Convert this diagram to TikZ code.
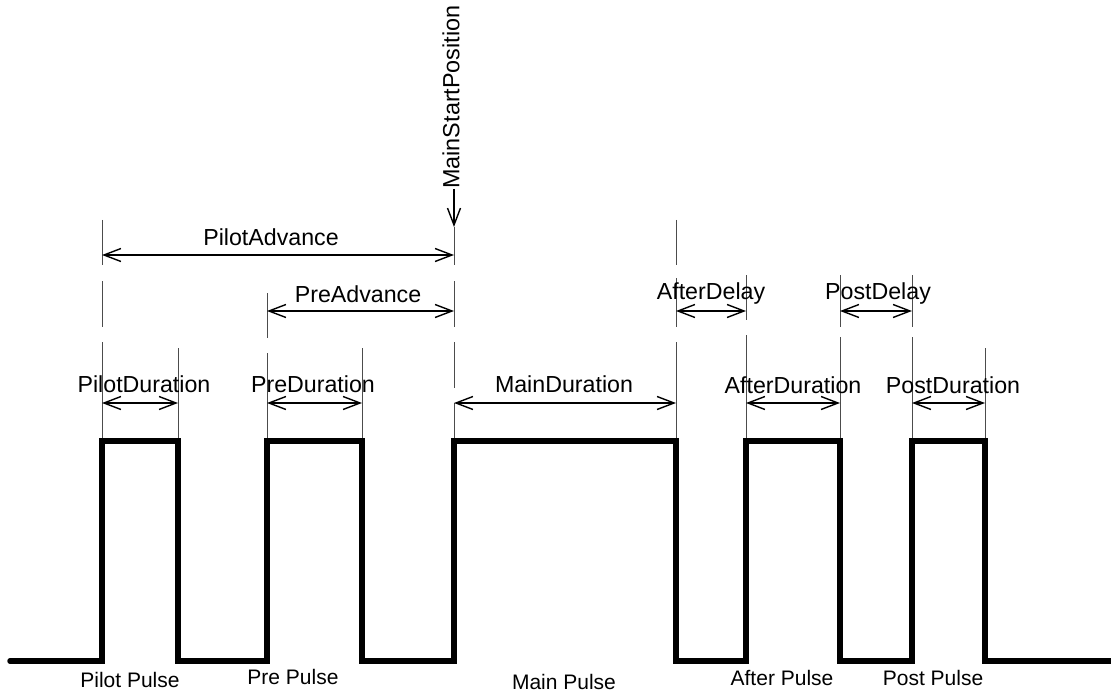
\documentclass[tikz,border=0pt]{standalone}
\usepackage{fontspec}
\setmainfont{Liberation Sans}
\usetikzlibrary{arrows.meta}
\begin{document}
\begin{tikzpicture}[x=1pt,y=-1pt,
  ext/.style={draw=black!70,line width=0.9pt},
  barb/.tip={Straight Barb[length=17pt,width=13pt]},
  dim/.style={line width=1.4pt,barb-barb},
  lbl/.style={font=\fontsize{23.2}{27}\selectfont,inner sep=0pt,anchor=base},
  plbl/.style={font=\fontsize{21}{25}\selectfont,inner sep=0pt,anchor=base},
  pulse/.style={line width=5.5pt,line cap=round,line join=miter}]
\useasboundingbox (0,0) rectangle (1111,695);

% extension lines
\foreach \x/\a/\b in {102/220/265,102/281/327,102/342/441,
  178/348/441,
  267/293/338,267/353/441,
  362/348/441,
  454/227/265,454/281/327,454/342/388,454/403/441,
  676/220/265,676/278/327,676/342/441,
  746/275/320,746/335/441,
  840/275/327,840/337/441,
  912/275/327,912/337/441,
  985/348/441}
  \draw[ext] (\x,\a) -- (\x,\b);

% pulse train
\draw[pulse] (10,661) -- (102,661) -- (102,441) -- (178,441) -- (178,661)
  -- (267,661) -- (267,441) -- (362,441) -- (362,661)
  -- (454,661) -- (454,441) -- (676,441) -- (676,661)
  -- (746,661) -- (746,441) -- (840,441) -- (840,661)
  -- (912,661) -- (912,441) -- (985,441) -- (985,661) -- (1115,661);

% dimension end points
\coordinate (pa1) at (102,255); \coordinate (pa2) at (454,255);
\coordinate (pr1) at (267,311); \coordinate (pr2) at (454,311);
\coordinate (ad1) at (676,311); \coordinate (ad2) at (746,311);
\coordinate (pd1) at (840,311); \coordinate (pd2) at (912,311);
\coordinate (d1a) at (102,403); \coordinate (d1b) at (178,403);
\coordinate (d2a) at (267,403); \coordinate (d2b) at (362,403);
\coordinate (d3a) at (454,403); \coordinate (d3b) at (676,403);
\coordinate (d4a) at (746,403); \coordinate (d4b) at (840,403);
\coordinate (d5a) at (912,403); \coordinate (d5b) at (985,403);

\draw[dim] (pa1) -- (pa2);
\draw[dim] (pr1) -- (pr2);
\draw[dim] (ad1) -- (ad2);
\draw[dim] (pd1) -- (pd2);
\draw[dim] (d1a) -- (d1b);
\draw[dim] (d2a) -- (d2b);
\draw[dim] (d3a) -- (d3b);
\draw[dim] (d4a) -- (d4b);
\draw[dim] (d5a) -- (d5b);

% MainStartPosition
\node[font=\fontsize{23.4}{27}\selectfont,inner sep=0pt,rotate=90,anchor=west] (msp) at (451,189) {MainStartPosition};
\coordinate (mspt) at (454,227);
\draw[line width=1.4pt,-barb] (msp.west -| mspt) -- (mspt);

% labels
\node[lbl] (lpa) at (271,246) {PilotAdvance};
\node[lbl] (lpr) at (358,302) {PreAdvance};
\node[lbl] (lad) at (711,299) {AfterDelay};
\node[lbl] (lpd) at (878,299) {PostDelay};
\node[lbl] (ld1) at (144,392) {PilotDuration};
\node[lbl] (ld2) at (313,392) {PreDuration};
\node[lbl] (ld3) at (564,392) {MainDuration};
\node[lbl] (ld4) at (793,393) {AfterDuration};
\node[lbl] (ld5) at (953,393) {PostDuration};

\node[plbl] (lp1) at (130,687) {Pilot Pulse};
\node[plbl] (lp2) at (293,684) {Pre Pulse};
\node[plbl] (lp3) at (564,689) {Main Pulse};
\node[plbl] (lp4) at (782,685) {After Pulse};
\node[plbl] (lp5) at (933,685) {Post Pulse};
\end{tikzpicture}
\end{document}
